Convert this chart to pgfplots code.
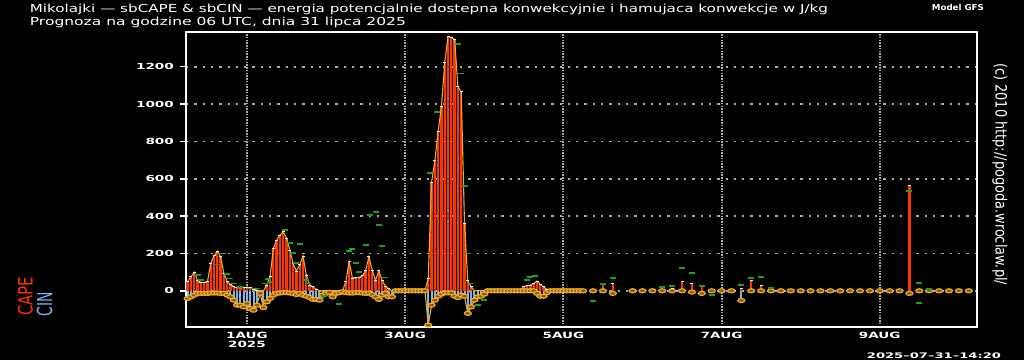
\documentclass[border=0pt]{standalone}
\usepackage{graphicx}
\usepackage{pgfplots}
\pgfplotsset{compat=1.18}
\usepackage{pgfplotstable}
\usepackage{fontspec}
\setmainfont{DejaVu Sans}
\newcommand\yl[1]{\scalebox{1.62}[1]{#1}}
\newcommand\xl[1]{\scalebox{1.58}[1]{#1}}
\definecolor{capered}{RGB}{255,50,0}
\definecolor{cinblue}{RGB}{120,180,240}
\definecolor{orng}{RGB}{240,170,40}
\definecolor{orngin}{RGB}{130,90,25}
\definecolor{grn}{RGB}{30,160,30}
\definecolor{gridgray}{RGB}{170,170,170}

\pgfplotstableread{
h cape cin
-18 48 -41
-17 75 -32
-16 100 -23
-15 55 -14
-14 45 -14
-13 45 -14
-12 48 -14
-11 146 -12
-10 187 -12
-9 212 -12
-8 182 -14
-7 93 -14
-6 48 -23
-5 34 -32
-4 21 -50
-3 16 -77
-2 16 -77
-1 16 -86
0 20 -68
1 16 -95
2 9 -104
3 4 -77
4 0 -14
5 0 -90
6 30 -59
7 75 -41
8 225 -23
9 271 -14
10 298 -12
11 316 -10
12 280 -10
13 218 -12
14 146 -14
15 105 -20
16 140 -14
17 186 -23
18 84 -29
19 30 -36
20 21 -46
21 8 -46
22 0 -50
23 0 -23
24 0 -14
25 0 -8
26 0 -32
27 0 -14
28 0 -10
29 0 -5
30 48 -10
31 155 -12
32 68 -12
33 70 -10
34 71 -10
35 80 -12
36 107 -14
37 182 -12
38 111 -20
39 55 -32
40 107 -46
41 57 -23
42 25 -14
43 11 -32
44 0 -32
45 0 0
46 0 0
47 0 0
48 0 0
49 0 0
50 0 0
51 0 0
52 0 0
53 0 0
54 0 0
55 66 -184
56 580 -77
57 696 -50
58 852 -29
59 986 -18
60 1221 -11
61 1361 -11
62 1357 -11
63 1346 -29
64 1093 -36
65 1066 -23
66 361 -29
67 54 -121
68 21 -86
69 0 -50
70 0 -32
71 0 -29
72 0 -18
73 0 0
74 0 0
75 0 0
76 0 0
77 0 0
78 0 0
79 0 0
80 0 0
81 0 0
82 0 0
83 0 0
84 21 0
85 28 0
86 30 0
87 39 0
88 52 -14
89 34 -29
90 21 -29
91 9 -10
92 0 0
93 0 0
94 0 0
95 0 0
96 0 0
97 0 0
98 0 0
99 0 0
100 0 0
101 0 0
102 0 0
}\hourly

\pgfplotstableread{
h cape cin
105 0 0
108 36 0
111 39 -14
117 0 0
120 0 0
123 0 0
126 18 0
129 12 0
132 48 0
135 39 -7
138 25 -14
141 0 0
144 0 0
147 0 0
150 10 -52
153 54 0
156 29 0
159 14 0
162 0 0
165 0 0
168 0 0
171 0 0
174 0 0
177 0 0
180 0 0
183 0 0
186 0 0
189 0 0
192 0 0
195 0 0
198 0 0
201 566 -14
204 0 0
207 0 0
210 0 0
213 0 0
216 0 0
219 0 0
}\three

\begin{document}
\begin{tikzpicture}
\fill[black] (0,0) rectangle (1024bp,360bp);
\path[use as bounding box] (0,0) rectangle (1024bp,360bp);
\begin{axis}[
  at={(186bp,33bp)}, anchor=south west,
  scale only axis, width=791bp, height=295bp,
  xmin=-18.5, xmax=221.5, ymin=-194, ymax=1386,
  axis line style={white, line width=1.8bp},
  xtick={0,48,96,144,192},
  xticklabels={{\xl{1AUG}\\\xl{2025}},\xl{3AUG},\xl{5AUG},\xl{7AUG},\xl{9AUG}},
  xticklabel style={font=\bfseries\fontsize{8.6}{8.6}\selectfont, text=white, align=center, anchor=north, inner sep=0pt, yshift=-5bp},
  ytick={0,200,...,1200},
  yticklabels={\yl{0},\yl{200},\yl{400},\yl{600},\yl{800},\yl{1000},\yl{1200}},
  yticklabel style={font=\bfseries\fontsize{8.4}{8.4}\selectfont, text=white, anchor=east, inner sep=0pt, xshift=-6bp},
  grid=major,
  x grid style={draw=gridgray, line width=2bp, dash pattern=on 1.3bp off 1.45bp},
  y grid style={draw=gridgray, line width=1.7bp, dash pattern=on 2.3bp off 6bp},
  xtick style={draw=none},
  ytick style={draw=white, line width=1.5bp},
  ytick pos=left, ytick align=outside, major tick length=6bp,
]
\addplot[ycomb, draw=cinblue, line width=2bp] table[x=h,y=cin]{\hourly};
\addplot[ycomb, draw=capered, line width=2.3bp] table[x=h,y=cape]{\hourly};
\addplot[ycomb, draw=cinblue, line width=2.2bp] table[x=h,y=cin]{\three};
\addplot[ycomb, draw=capered, line width=2.2bp] table[x=h,y=cape]{\three};
\addplot[draw=orng, line width=1.1bp] table[x=h,y=cape]{\hourly};
\addplot[draw=orng, line width=1.1bp] table[x=h,y=cin]{\hourly};
\addplot[only marks, mark=*, mark size=2bp, mark options={xscale=1.75, draw=orng, fill=orngin, line width=1.2bp}] table[x=h,y=cin]{\hourly};
\addplot[only marks, mark=*, mark size=2bp, mark options={xscale=1.75, draw=orng, fill=orngin, line width=1.2bp}] table[x=h,y=cin]{\three};
\addplot[only marks, mark=-, mark size=1.5bp, mark options={draw=white, line width=0.9bp}, restrict y to domain=0.5:5000] table[x=h,y=cape]{\hourly};
\addplot[only marks, mark=-, mark size=1.5bp, mark options={draw=white, line width=0.9bp}, restrict y to domain=0.5:5000] table[x=h,y=cape]{\three};
\addplot[only marks, mark=-, mark size=3bp, mark options={draw=grn, line width=1.8bp}] coordinates {
(-15,84) (-14,57) (-9,141) (-8,200) (-7,200) (-6,89) (-5,66) (-4,39) (-2,21) (1,12) (3,12)
(5.5,39) (6.5,61) (7,48) (11.5,327) (13,254) (14,204) (15,150) (16,252) (18,57) (18.5,39)
(23.5,-29) (28,-70) (31,213) (32,222) (33,150) (34,100) (36,246) (37.4,405) (39,423) (40,354)
(41,241) (42,71) (55.6,629) (57.6,959) (64,1321) (65,1164) (66,562) (67,200) (68,39) (70,-77)
(72,-50) (85,57) (86,75) (87.5,79) (105,-54) (108,36) (111,70) (126,21) (129,25) (132,123)
(135,96) (138,25) (141,-23) (150,32) (153,70) (156,75) (159,16) (201,536) (204,43) (204,-64) (207,11)
};
\end{axis}
\node[anchor=north west, inner sep=0pt, text=white] at (29.7bp,356bp) {\resizebox*{798bp}{10.7bp}{Mikolajki — sbCAPE \& sbCIN — energia potencjalnie dostepna konwekcyjnie i hamujaca konwekcje w J/kg}};
\node[anchor=north west, inner sep=0pt, text=white] at (29.7bp,342.7bp) {\resizebox*{376bp}{10.7bp}{Prognoza na godzine 06 UTC, dnia 31 lipca 2025}};
\node[anchor=north west, inner sep=0pt, text=white] at (931.7bp,356bp) {\resizebox*{52bp}{6.3bp}{\bfseries Model GFS}};
\node[inner sep=0pt, text=white] at (1000bp,185.8bp) {\rotatebox{-90}{\resizebox*{222bp}{15bp}{(c) 2010 http://pogoda.wroclaw.pl/}}};
\node[anchor=north west, inner sep=0pt, text=white] at (866.7bp,7.3bp) {\resizebox*{134bp}{5.8bp}{\bfseries 2025–07–31–14:20}};
\node[inner sep=0pt, text=capered] at (25.5bp,63.5bp) {\rotatebox{90}{\resizebox*{39bp}{15bp}{CAPE}}};
\node[inner sep=0pt, text=cinblue] at (44.5bp,56bp) {\rotatebox{90}{\resizebox*{24.3bp}{15.6bp}{CIN}}};
\end{tikzpicture}
\end{document}
